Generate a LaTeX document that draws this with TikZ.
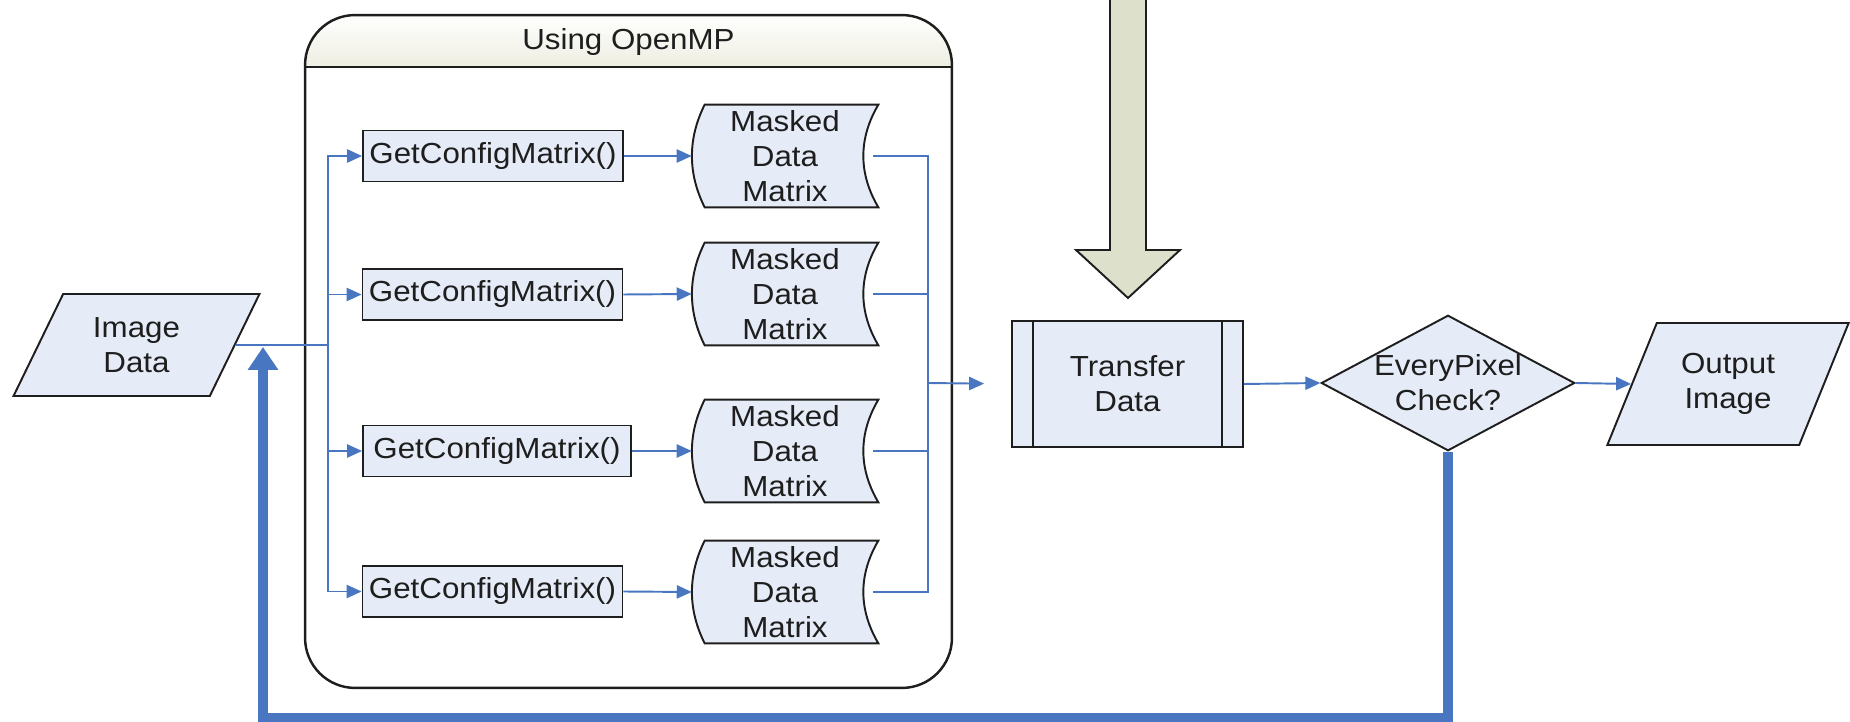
\documentclass[tikz,border=0pt]{standalone}
\usepackage{fontspec}
\setmainfont[FakeStretch=1.08]{Liberation Sans}
\usetikzlibrary{shapes.geometric,arrows.meta,calc,backgrounds}
\definecolor{boxfill}{RGB}{230,236,247}
\definecolor{linkblue}{RGB}{72,118,192}
\definecolor{edge}{RGB}{30,30,30}
\definecolor{arrowfill}{RGB}{221,225,203}
\definecolor{hdr}{RGB}{238,238,226}
\definecolor{txt}{RGB}{30,30,30}

\begin{document}
\begin{tikzpicture}[x=0.02cm,y=-0.02cm,font=\fontsize{16.5}{20}\selectfont,text=txt,
        box/.style={draw=edge,fill=boxfill,line width=1.1pt,inner sep=0pt,align=center},
        proc/.style={box,minimum width=5.2cm,minimum height=1.02cm},
        io/.style={box,trapezium,trapezium left angle=62,trapezium right angle=118,trapezium stretches=true},
        store/.style={align=center,inner sep=0pt,minimum width=3.72cm,minimum height=2.04cm},
        link/.style={draw=linkblue,line width=1.1pt},
        feed/.style={link,-{Triangle[length=8.5pt,width=7.5pt]}},
        loopline/.style={draw=linkblue,line width=5.7pt,-{Triangle[length=13pt,width=16.5pt]}},
        bigarrow/.style={draw=edge,fill=arrowfill,line width=1.1pt}]
        \useasboundingbox (0,0) rectangle (1850,722);
        \node[draw=edge,line width=1.4pt,rounded corners=1cm,minimum width=12.94cm,minimum height=13.46cm](omp) at (628.5,351.5) {};
        \node(ttl) at (628.5,42) {Using OpenMP};
        \node[io,minimum width=4.94cm,minimum height=2.04cm](img) at (136.5,345) {Image\\Data};
        \node[proc](c1) at (493,156) {GetConfigMatrix()};
        \node[proc](c2) at (492.5,294.5) {GetConfigMatrix()};
        \node[proc,minimum width=5.36cm](c3) at (497,451) {GetConfigMatrix()};
        \node[proc](c4) at (492.5,591.5) {GetConfigMatrix()};
        \node[store](m1) at (785,156) {Masked\\Data\\Matrix};
        \node[store](m2) at (785,294) {Masked\\Data\\Matrix};
        \node[store](m3) at (785,451) {Masked\\Data\\Matrix};
        \node[store](m4) at (785,592) {Masked\\Data\\Matrix};
        \node[box,minimum width=4.62cm,minimum height=2.52cm](tr) at (1127.5,384) {Transfer\\Data};
        \node[box,diamond,aspect=1.87,minimum width=5.02cm,minimum height=2.68cm](dec) at (1448,383) {EveryPixel\\Check?};
        \node[io,minimum width=4.84cm,minimum height=2.44cm](out) at (1728,384) {Output\\Image};
        \coordinate(fork) at (328,345);
        \coordinate(join) at (928,383);
        \coordinate(ret) at (263,347);
        \begin{scope}[on background layer]
        \begin{scope}
        \clip[rounded corners=1cm] (omp.south west) rectangle (omp.north east);
        \shade[top color=white,bottom color=hdr] (omp.north west) rectangle ($(omp.north east)+(0,53)$);
        \end{scope}
        \draw[box] ($(m1.north west)+(13,0)$) -- (m1.north east) .. controls ($(m1.north east)+(-20,34)$) and ($(m1.south east)+(-20,-34)$) .. (m1.south east) -- ($(m1.south west)+(13,0)$) .. controls ($(m1.south west)+(-4,-34)$) and ($(m1.north west)+(-4,34)$) .. ($(m1.north west)+(13,0)$) -- cycle;
        \draw[box] ($(m2.north west)+(13,0)$) -- (m2.north east) .. controls ($(m2.north east)+(-20,34)$) and ($(m2.south east)+(-20,-34)$) .. (m2.south east) -- ($(m2.south west)+(13,0)$) .. controls ($(m2.south west)+(-4,-34)$) and ($(m2.north west)+(-4,34)$) .. ($(m2.north west)+(13,0)$) -- cycle;
        \draw[box] ($(m3.north west)+(13,0)$) -- (m3.north east) .. controls ($(m3.north east)+(-20,34)$) and ($(m3.south east)+(-20,-34)$) .. (m3.south east) -- ($(m3.south west)+(13,0)$) .. controls ($(m3.south west)+(-4,-34)$) and ($(m3.north west)+(-4,34)$) .. ($(m3.north west)+(13,0)$) -- cycle;
        \draw[box] ($(m4.north west)+(13,0)$) -- (m4.north east) .. controls ($(m4.north east)+(-20,34)$) and ($(m4.south east)+(-20,-34)$) .. (m4.south east) -- ($(m4.south west)+(13,0)$) .. controls ($(m4.south west)+(-4,-34)$) and ($(m4.north west)+(-4,34)$) .. ($(m4.north west)+(13,0)$) -- cycle;
        \end{scope}
        \draw[draw=edge,line width=1.4pt] ($(omp.north west)+(0,53)$) -- ($(omp.north east)+(0,53)$);
        \draw[edge,line width=1.1pt] ([xshift=0.44cm]tr.north west) -- ([xshift=0.44cm]tr.south west);
        \draw[edge,line width=1.1pt] ([xshift=-0.44cm]tr.north east) -- ([xshift=-0.44cm]tr.south east);
        \draw[bigarrow] (1110,-10) -- (1110,250) -- (1076,250) -- (1128,298) -- (1180,250) -- (1146,250) -- (1146,-10);
        \draw[link] (img.east) -- (fork);
        \draw[feed] (fork) |- (c1.west);
        \draw[feed] (fork) |- (c2.west);
        \draw[feed] (fork) |- (c3.west);
        \draw[feed] (fork) |- (c4.west);
        \draw[feed] (c1.east) -- (m1.west);
        \draw[feed] (c2.east) -- (m2.west);
        \draw[feed] (c3.east) -- (m3.west);
        \draw[feed] (c4.east) -- (m4.west);
        \draw[link] ([xshift=-0.1cm]m1.east) -| (join);
        \draw[link] ([xshift=-0.1cm]m2.east) -| (join);
        \draw[link] ([xshift=-0.1cm]m3.east) -| (join);
        \draw[link] ([xshift=-0.1cm]m4.east) -| (join);
        \draw[feed,shorten >=0.54cm] (join) -- (tr.west);
        \draw[feed] (tr.east) -- (dec.west);
        \draw[feed] (dec.east) -- (out.west);
        \draw[loopline] (dec.south) -- ++(0,266) -| (ret);
\end{tikzpicture}
\end{document}
